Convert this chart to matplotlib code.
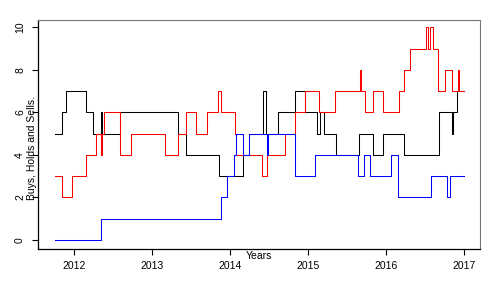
import matplotlib
matplotlib.use("Agg")
import matplotlib.pyplot as plt

# Step series: change-point dates (decimal years) and values
black_dates = [2011.756, 2011.842, 2011.894, 2012.150, 2012.244, 2012.342, 2012.359, 2012.594,
               2013.337, 2013.436, 2013.853, 2014.163, 2014.240, 2014.429, 2014.455, 2014.612,
               2014.837, 2014.965, 2015.109, 2015.154, 2015.205, 2015.353, 2015.650, 2015.829,
               2015.958, 2016.235, 2016.673, 2016.846, 2016.859, 2016.910, 2016.995]
black_vals = [5, 6, 7, 6, 5, 6, 5, 6,
              5, 4, 3, 4, 5, 7, 5, 6,
              7, 6, 5, 6, 5, 4, 5, 4,
              5, 4, 6, 5, 6, 7, 7]

red_dates = [2011.756, 2011.842, 2011.971, 2012.150, 2012.286, 2012.346, 2012.359, 2012.388,
             2012.594, 2012.731, 2013.167, 2013.337, 2013.436, 2013.564, 2013.701, 2013.850,
             2013.878, 2014.058, 2014.077, 2014.406, 2014.471, 2014.705, 2014.837, 2014.965,
             2015.137, 2015.350, 2015.671, 2015.679, 2015.731, 2015.837, 2015.958, 2016.171,
             2016.235, 2016.308, 2016.513, 2016.542, 2016.564, 2016.599, 2016.671, 2016.756,
             2016.842, 2016.927, 2016.936, 2016.995]
red_vals = [3, 2, 3, 4, 5, 4, 5, 6,
            4, 5, 4, 5, 6, 5, 6, 7,
            6, 5, 4, 3, 4, 5, 6, 7,
            6, 7, 8, 7, 6, 7, 6, 7,
            8, 9, 10, 9, 10, 9, 7, 8,
            7, 8, 7, 7]

blue_dates = [2011.756, 2012.346, 2013.878, 2013.962, 2014.047, 2014.077, 2014.167, 2014.240,
              2014.474, 2014.487, 2014.837, 2015.094, 2015.635, 2015.724, 2015.795, 2016.060,
              2016.158, 2016.573, 2016.776, 2016.821, 2016.995]
blue_vals = [0, 1, 2, 3, 4, 5, 4, 5,
             4, 5, 3, 4, 3, 4, 3, 4,
             2, 3, 2, 3, 3]

x_ticks = [2012, 2013, 2014, 2015, 2016, 2017]
y_ticks = [0, 2, 4, 6, 8, 10]

plt.rcParams['font.family'] = ['Liberation Sans', 'DejaVu Sans']

fig = plt.figure(figsize=(4.92, 2.88), dpi=100)
ax = fig.add_axes([38/492, 1 - 249/288, (480-38)/492, (249-20)/288])

ax.step(black_dates, black_vals, where='post', color='black', lw=0.75)
ax.step(red_dates, red_vals, where='post', color='#ff0000', lw=0.75)
ax.step(blue_dates, blue_vals, where='post', color='#0000ff', lw=0.75)

ax.set_xlim(2011.538, 2017.205)
ax.set_ylim(-0.424, 10.35)
ax.set_xticks(x_ticks)
ax.set_xticklabels([str(t) for t in x_ticks], fontsize=7.5)
ax.set_yticks(y_ticks)
ax.set_yticklabels([str(t) for t in y_ticks], fontsize=7.5, rotation=90, va='center')
ax.tick_params(direction='out', length=4.3, width=0.8, color='black', pad=4)
ax.tick_params(axis='y', pad=5)

for s in ['left', 'bottom']:
    ax.spines[s].set_color('black')
    ax.spines[s].set_linewidth(0.9)
for s in ['top', 'right']:
    ax.spines[s].set_color('#777777')
    ax.spines[s].set_linewidth(0.8)

fig.text(259/492, 1 - 256/288, 'Years', fontsize=7.5, ha='center', va='center')
fig.text(32/492, 1 - 148/288, 'Buys, Holds and Sells.', fontsize=7.5, ha='center', va='center',
         rotation=90)

fig.savefig('out.png', dpi=100)
